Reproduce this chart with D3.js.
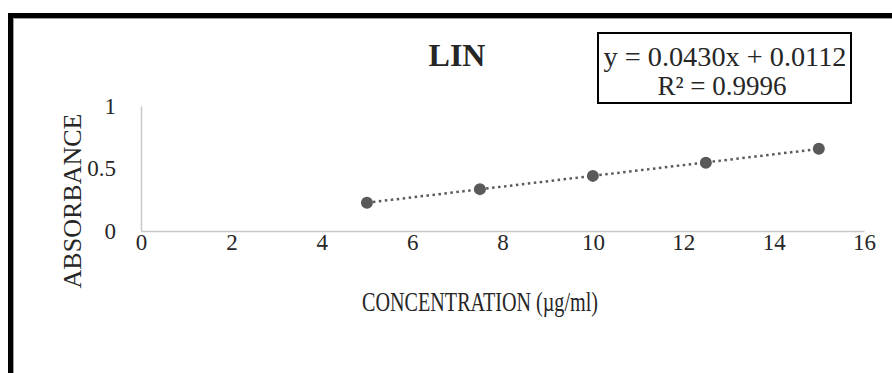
<!DOCTYPE html>
<html>
<head>
<meta charset="utf-8">
<script src="https://cdn.jsdelivr.net/npm/d3@7"></script>
<style>
  html, body { margin: 0; padding: 0; background: #fff; }
  svg { display: block; }
  text { font-family: "Liberation Serif", "Times New Roman", serif; fill: #262626; }
</style>
</head>
<body>
<svg id="chart" width="892" height="373"></svg>
<script>
// Calibration data: concentration (µg/ml) vs absorbance
const concentration = [5, 7.5, 10, 12.5, 15];
const absorbance = [0.226, 0.335, 0.441, 0.546, 0.658];
const xTicks = [0, 2, 4, 6, 8, 10, 12, 14, 16];
const yTicks = [0, 0.5, 1];
const slope = 0.0430;
const intercept = 0.0112;
const rSquared = 0.9996;

const svg = d3.select("#chart");

// Outer frame (only top and left edges fall inside the view)
svg.append("rect")
  .attr("x", 10.5).attr("y", 15.5)
  .attr("width", 1200).attr("height", 800)
  .attr("fill", "none").attr("stroke", "#000").attr("stroke-width", 5);
svg.append("rect")
  .attr("x", 13.5).attr("y", 18.5)
  .attr("width", 1200).attr("height", 800)
  .attr("fill", "none").attr("stroke", "#a0a0a0").attr("stroke-width", 1);

const x = d3.scaleLinear().domain([0, 16]).range([141, 864]);
const y = d3.scaleLinear().domain([0, 1]).range([231, 106]);

// Axes: light gray lines, no tick marks
const xAxis = svg.append("g")
  .attr("transform", `translate(0,${y(0)})`)
  .call(d3.axisBottom(x).tickValues(xTicks).tickSize(0).tickPadding(3).tickFormat(d3.format("d")));
const yAxis = svg.append("g")
  .attr("transform", `translate(${x(0)},0)`)
  .call(d3.axisLeft(y).tickValues(yTicks).tickSize(0).tickPadding(25).tickFormat(d => String(d)));

[xAxis, yAxis].forEach(g => {
  g.select(".domain").attr("stroke", "#c8c8c8").attr("stroke-width", 1.5);
  g.selectAll("text")
    .attr("font-family", "Liberation Serif, serif")
    .attr("font-size", 23)
    .attr("fill", "#262626");
});

// Linear trendline
const trendX = d3.extent(concentration);
svg.append("line")
  .attr("x1", x(trendX[0])).attr("y1", y(slope * trendX[0] + intercept))
  .attr("x2", x(trendX[1])).attr("y2", y(slope * trendX[1] + intercept))
  .attr("stroke", "#5a5a5a").attr("stroke-width", 2.5)
  .attr("stroke-dasharray", "2.5,3.5");

// Data points
svg.append("g").selectAll("circle")
  .data(concentration.map((c, i) => ({ c, a: absorbance[i] })))
  .join("circle")
  .attr("cx", d => x(d.c))
  .attr("cy", d => y(d.a))
  .attr("r", 6)
  .attr("fill", "#595959");

// Title
svg.append("text")
  .attr("x", 457).attr("y", 66)
  .attr("text-anchor", "middle")
  .attr("font-size", 32).attr("font-weight", "bold")
  .attr("fill", "#000")
  .text("LIN");

// Axis titles
svg.append("text")
  .attr("x", 480).attr("y", 311)
  .attr("text-anchor", "middle")
  .attr("font-size", 27)
  .attr("textLength", 236).attr("lengthAdjust", "spacingAndGlyphs")
  .text("CONCENTRATION (µg/ml)");

svg.append("text")
  .attr("transform", "translate(81,201) rotate(-90)")
  .attr("text-anchor", "middle")
  .attr("font-size", 26)
  .text("ABSORBANCE");

// Regression equation box
const box = svg.append("g");
box.append("rect")
  .attr("x", 598).attr("y", 33)
  .attr("width", 253).attr("height", 70)
  .attr("fill", "#fff").attr("stroke", "#000").attr("stroke-width", 2);
box.append("text")
  .attr("x", 725).attr("y", 66)
  .attr("text-anchor", "middle").attr("font-size", 27)
  .attr("textLength", 243).attr("lengthAdjust", "spacingAndGlyphs")
  .text(`y = ${slope.toFixed(4)}x + ${intercept.toFixed(4)}`);
box.append("text")
  .attr("x", 722).attr("y", 95)
  .attr("text-anchor", "middle").attr("font-size", 27)
  .text(`R² = ${rSquared.toFixed(4)}`);
</script>
</body>
</html>
